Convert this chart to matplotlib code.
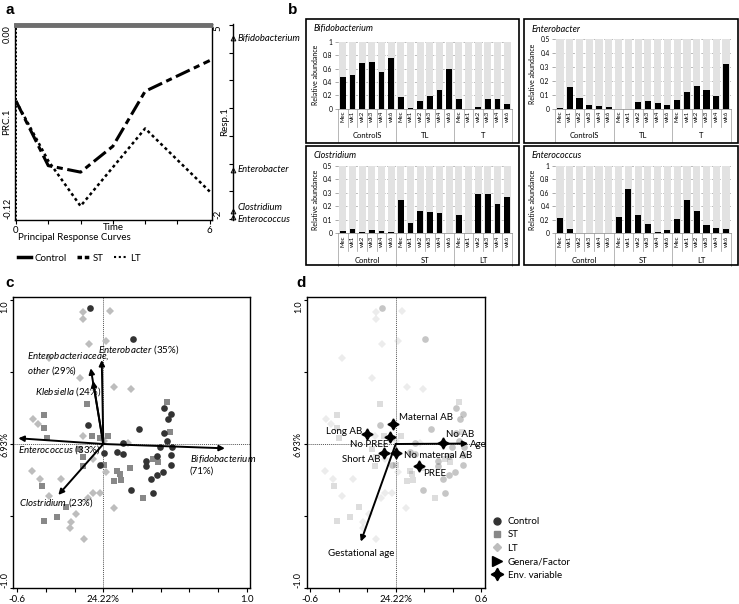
import matplotlib.pyplot as plt
import matplotlib as mpl
import matplotlib.transforms as mtransforms
from matplotlib.lines import Line2D
from matplotlib.patches import Rectangle
import numpy as np

W, H = 739, 604

mpl.rcParams.update({
    "font.family": ["Lato", "DejaVu Sans"],
    "font.size": 7,
    "axes.linewidth": 1.0,
    "mathtext.fontset": "custom",
    "mathtext.it": "Lato:italic",
    "mathtext.rm": "Lato",
    "xtick.major.size": 3,
    "ytick.major.size": 3,
    "xtick.major.width": 0.8,
    "ytick.major.width": 0.8,
    "xtick.minor.size": 3,
    "xtick.minor.width": 0.8,
    "xtick.labelsize": 7,
    "ytick.labelsize": 7,
})

# ---------- Data: panel a (principal response curves) ----------
prc_time = [0, 1, 2, 3, 4, 6]
prc_control = [0, 0, 0, 0, 0, 0]
prc_st = [-0.047, -0.087, -0.091, -0.075, -0.041, -0.022]
prc_lt = [-0.047, -0.084, -0.112, -0.088, -0.064, -0.103]
resp_taxa = ["Bifidobacterium", "Enterobacter", "Clostridium", "Enterococcus"]
resp_weights = [4.52, -0.23, -1.71, -1.94]

# ---------- Data: panel b (relative abundance) ----------
week_labels = ["Mec", "wk1", "wk2", "wk3", "wk4", "wk6"]
top_groups = ["ControlS", "TL", "T"]
bottom_groups = ["Control", "ST", "LT"]
bifidobacterium = [0.47, 0.50, 0.68, 0.69, 0.55, 0.76,
                   0.17, 0.01, 0.12, 0.19, 0.28, 0.60,
                   0.14, 0.00, 0.02, 0.14, 0.15, 0.07]
enterobacter = [0.010, 0.158, 0.077, 0.029, 0.019, 0.012,
                0.0, 0.0, 0.050, 0.055, 0.041, 0.026,
                0.065, 0.120, 0.168, 0.137, 0.096, 0.320]
clostridium = [0.017, 0.030, 0.010, 0.025, 0.017, 0.012,
               0.250, 0.074, 0.165, 0.158, 0.148, 0.003,
               0.133, 0.0, 0.290, 0.290, 0.215, 0.270]
enterococcus = [0.223, 0.064, 0.005, 0.0, 0.005, 0.0,
                0.238, 0.663, 0.277, 0.139, 0.015, 0.050,
                0.218, 0.495, 0.332, 0.129, 0.079, 0.059]

# ---------- Data: panels c/d (RDA sample scores) ----------
control_x = [-0.093, 0.209, -0.109, 0.135, 0.251, 0.423, 0.470, 0.449, 0.425, 0.442,
             0.395, 0.481, 0.007, 0.097, 0.135, -0.023, 0.193, 0.344, 0.295, 0.297,
             0.330, 0.372, 0.414, 0.470, 0.474, 0.372]
control_y = [0.946, 0.730, 0.130, 0.005, 0.105, 0.253, 0.209, 0.174, 0.079, 0.021,
             -0.019, -0.019, -0.060, -0.053, -0.070, -0.146, -0.321, -0.344, -0.151, -0.120,
             -0.244, -0.216, -0.193, -0.146, -0.077, -0.084]
st_x = [-0.112, -0.412, -0.412, -0.395, -0.081, -0.023, 0.035, 0.442, 0.465, -0.168,
        -0.140, -0.144, 0.005, 0.097, 0.116, 0.076, 0.121, 0.186, 0.279, 0.348,
        0.383, -0.430, -0.260, -0.412, -0.321]
st_y = [0.279, 0.202, 0.109, 0.040, 0.056, 0.040, 0.056, 0.295, 0.081, -0.035,
        -0.088, -0.151, -0.146, -0.188, -0.211, -0.258, -0.253, -0.170, -0.378, -0.107,
        -0.123, -0.293, -0.437, -0.534, -0.506]
lt_x = [-0.139, -0.139, 0.046, -0.098, 0.019, -0.163, 0.076, 0.193, -0.488, -0.454,
        -0.144, 0.005, 0.174, -0.074, 0.019, -0.500, -0.442, -0.297, -0.377, -0.074,
        -0.105, -0.023, -0.191, -0.228, -0.233, -0.135, 0.074, -0.379]
lt_y = [0.918, 0.871, 0.927, 0.695, 0.720, 0.458, 0.395, 0.383, 0.172, 0.139,
        0.058, 0.023, 0.009, -0.107, -0.193, -0.188, -0.244, -0.244, -0.362, -0.344,
        -0.378, -0.344, -0.490, -0.546, -0.583, -0.664, -0.448, 0.597]

genera_labels = [r"$\mathit{Enterobacter}$ (35%)",
                 r"$\mathit{Enterobacteriaceae,}$" + "\n" + r"$\mathit{other}$ (29%)",
                 r"$\mathit{Klebsiella}$ (24%)",
                 r"$\mathit{Enterococcus}$ (33%)",
                 r"$\mathit{Bifidobacterium}$" + "\n(71%)",
                 r"$\mathit{Clostridium}$ (23%)"]
genera_x = [-0.011, -0.088, -0.072, -0.593, 0.848, -0.314]
genera_y = [0.585, 0.528, 0.440, 0.040, -0.030, -0.355]

env_labels = ["Maternal AB", "Long AB", "No PREE", "No AB", "Short AB", "No maternal AB", "PREE"]
env_x = [-0.017, -0.204, -0.040, 0.330, -0.082, 0.002, 0.166]
env_y = [0.137, 0.070, 0.047, 0.009, -0.061, -0.065, -0.153]
factor_labels = ["Age", "Gestational age"]
factor_x = [0.510, -0.245]
factor_y = [0.003, -0.680]

C_CONTROL = "#333333"
C_ST = "#888888"
C_LT = "#bdbdbd"


def px_box(x0, y0, x1, y1):
    """Pixel box (top-left origin) -> figure fraction rect."""
    return [x0 / W, 1 - y1 / H, (x1 - x0) / W, (y1 - y0) / H]


def fxy(x, y):
    return x / W, 1 - y / H


fig = plt.figure(figsize=(W / 100, H / 100), dpi=100)

for letter, (lx, ly) in {"a": (5, 10), "b": (288, 10), "c": (5, 283), "d": (296, 283)}.items():
    fig.text(*fxy(lx, ly), letter, fontsize=11, fontweight="bold",
             family="Liberation Sans", va="center", ha="left")

# ---------- Panel a ----------
ax_a = fig.add_axes(px_box(15, 24, 212, 220))
ax_a.plot(prc_time, prc_control, color="#6e6e6e", lw=3.5, clip_on=False, zorder=4)
ax_a.plot(prc_time, prc_st, color="k", lw=2.2, ls=(0, (5, 1.5, 2, 1.5)))
ax_a.plot(prc_time, prc_lt, color="k", lw=1.8, ls=(0, (1.2, 1.2)))
ax_a.axvline(0, color="k", lw=0.7, ls=(0, (2, 2)))
ax_a.set_xlim(-0.03, 6.07)
ax_a.set_ylim(-0.1206, 0.0006)
ax_a.set_xticks(range(7))
ax_a.set_xticklabels(["0", "", "", "", "", "", "6"])
ax_a.tick_params(axis="x", pad=1)
ax_a.set_yticks([-0.12, 0.0])
ax_a.set_yticklabels(["-0.12", "0.00"])
for lab, va in zip(ax_a.get_yticklabels(), ["bottom", "top"]):
    lab.set_rotation(90)
    lab.set_va(va)
ax_a.tick_params(axis="y", length=0, pad=2, labelsize=6.5)
ax_a.set_xlabel("Time", labelpad=-8)
ax_a.set_ylabel("PRC.1", labelpad=-6)

ax_r = fig.add_axes(px_box(233, 24, 262, 220))
ax_r.patch.set_visible(False)
for side in ["top", "right", "bottom"]:
    ax_r.spines[side].set_visible(False)
ax_r.set_xlim(0, 1)
ax_r.set_ylim(-2.036, 5.036)
ax_r.set_xticks([])
ax_r.set_yticks(range(-2, 6))
ax_r.set_yticklabels([])
ax_r.tick_params(axis="y", length=3)
ax_r.plot([0] * len(resp_weights), resp_weights, ls="none", marker="^", ms=3.5,
          mfc="#999999", mec="k", mew=0.6, clip_on=False)
label_shift = [0, 0, 2.2, -1.2]
for name, w, dy in zip(resp_taxa, resp_weights, label_shift):
    ax_r.annotate(name, (0, w), xytext=(3.5, dy), textcoords="offset points",
                  va="center", ha="left", style="italic", fontsize=6.8)
ax_r.annotate("5", (0, 5), xytext=(-11, 0), textcoords="offset points",
              rotation=90, va="top", ha="center")
ax_r.annotate("-2", (0, -2), xytext=(-11, 0), textcoords="offset points",
              rotation=90, va="bottom", ha="center")
ax_r.annotate("Resp.1", (0, 1.5), xytext=(-6, 0), textcoords="offset points",
              rotation=90, va="center", ha="center")

fig.text(*fxy(18, 238), "Principal Response Curves", va="center", ha="left")
prc_handles = [Line2D([], [], color="k", lw=2.5),
               Line2D([], [], color="k", lw=2.5, ls=(0, (1.3, 0.8))),
               Line2D([], [], color="k", lw=1.5, ls=(0, (1, 1.3)))]
fig.legend(prc_handles, ["Control", "ST", "LT"], loc="center left",
           bbox_to_anchor=fxy(18, 258), ncol=3, frameon=False, fontsize=7,
           handlelength=1.3, handletextpad=0.4, columnspacing=1.0,
           borderaxespad=0, borderpad=0)


# ---------- Panel b ----------
def bar_panel(box, axbox, title, values, groups, ymax, ystep):
    bx0, by0, bx1, by1 = box
    fig.add_artist(Rectangle(fxy(bx0, by1), (bx1 - bx0) / W, (by1 - by0) / H,
                             transform=fig.transFigure, fill=False, lw=1.2, ec="k"))
    ax = fig.add_axes(px_box(*axbox))
    h_px = axbox[3] - axbox[1]
    pos = np.arange(len(values))
    ax.bar(pos, np.full(len(values), ymax), width=0.74, color="#e2e2e2", zorder=1)
    ax.bar(pos, values, width=0.62, color="k", zorder=2)
    ax.set_xlim(-0.5, len(values) - 0.5)
    ax.set_ylim(0, ymax)
    ticks = np.arange(0, ymax + 1e-9, ystep)
    ax.set_yticks(ticks)
    ax.set_yticklabels([f"{t:g}" for t in ticks])
    ax.yaxis.grid(True, color="#a0a0a0", lw=0.5, ls=(0, (3, 2)), zorder=0)
    ax.set_axisbelow(True)
    for side in ["left", "top", "right"]:
        ax.spines[side].set_visible(False)
    ax.spines["bottom"].set_color("#999999")
    ax.spines["bottom"].set_linewidth(0.6)
    ax.set_xticks([])
    ax.tick_params(axis="y", length=2, width=0.5, color="#888888", labelsize=4.8, pad=2)
    ax.set_ylabel("Relative abundance", fontsize=5, labelpad=3)

    trans = mtransforms.blended_transform_factory(ax.transData, ax.transAxes)
    n_weeks = len(week_labels)
    for i in range(len(values)):
        ax.text(i, -2 / h_px, week_labels[i % n_weeks], transform=trans, rotation=90,
                ha="center", va="top", fontsize=4.3)
    for i in range(len(values) + 1):
        depth = 33 if i % n_weeks == 0 else 18
        ax.plot([i - 0.5, i - 0.5], [0, -depth / h_px], transform=trans,
                color="#9a9a9a", lw=0.5, clip_on=False)
    for g, name in enumerate(groups):
        ax.text(g * n_weeks + (n_weeks - 1) / 2, -27 / h_px, name, transform=trans,
                ha="center", va="center", fontsize=5.5)
    fig.text(*fxy(bx0 + 8, by0 + 10), title, style="italic", fontsize=6.5,
             va="center", ha="left")


bar_panel((305.7, 19, 519, 143.3), (338, 41.7, 512, 108.7),
          "Bifidobacterium", bifidobacterium, top_groups, 1.0, 0.2)
bar_panel((524, 19, 737.7, 143.3), (555.1, 39.3, 730.9, 109),
          "Enterobacter", enterobacter, top_groups, 0.5, 0.1)
bar_panel((305.7, 145.7, 519, 265), (338, 165.7, 512, 233.3),
          "Clostridium", clostridium, bottom_groups, 0.5, 0.1)
bar_panel((524, 145.7, 737.7, 265), (555.1, 166, 730.9, 233.3),
          "Enterococcus", enterococcus, bottom_groups, 1.0, 0.2)


# ---------- Panels c and d ----------
def ordination_axes(x0, x1, xlim, xticks, xticklabels, minor):
    ax = fig.add_axes(px_box(x0, 297, x1, 588))
    ax.set_xlim(*xlim)
    ax.set_ylim(-1.003, 1.024)
    ax.axvline(0, color="#555555", lw=0.7, ls=(0, (1, 1)), zorder=1)
    ax.axhline(0, color="#555555", lw=0.7, ls=(0, (1, 1)), zorder=1)
    ax.set_xticks(xticks)
    ax.set_xticklabels(xticklabels)
    ax.set_xticks(minor, minor=True)
    ax.set_yticks([-1.0, -0.5, 0.0, 0.5, 1.0])
    ax.set_yticklabels(["-1.0", "", "6.93%", "", "1.0"])
    for lab, va in zip(ax.get_yticklabels(), ["bottom", "center", "center", "center", "top"]):
        lab.set_rotation(90)
        lab.set_va(va)
    ax.tick_params(axis="x", which="both", pad=2)
    ax.tick_params(axis="y", length=2, pad=0.8, labelsize=6.5)
    return ax


def draw_samples(ax, alpha):
    ax.plot(lt_x, lt_y, ls="none", marker="D", ms=3.6, color=C_LT, mew=0, alpha=alpha, zorder=2)
    ax.plot(st_x, st_y, ls="none", marker="s", ms=4.0, color=C_ST, mew=0, alpha=alpha, zorder=2)
    ax.plot(control_x, control_y, ls="none", marker="o", ms=4.8, color=C_CONTROL, mew=0,
            alpha=alpha, zorder=2)


arrow_style = dict(arrowstyle="-|>", color="k", lw=1.4, mutation_scale=8, shrinkA=0, shrinkB=0)

ax_c = ordination_axes(13, 250, (-0.630, 1.023), [-0.6, 0.0, 1.0], ["-0.6", "24.22%", "1.0"],
                       np.arange(-0.6, 1.01, 0.2))
draw_samples(ax_c, 1.0)
for gx, gy in zip(genera_x, genera_y):
    ax_c.annotate("", xy=(gx, gy), xytext=(0, 0), arrowprops=arrow_style, zorder=3)
c_label_pos = [(-0.035, 0.655), (-0.535, 0.557), (-0.477, 0.365),
               (-0.593, -0.042), (0.604, -0.139), (-0.588, -0.409)]
for label, (tx, ty) in zip(genera_labels, c_label_pos):
    ax_c.text(tx, ty, label, ha="left", va="center", fontsize=7, zorder=4,
              multialignment="left")

ax_d = ordination_axes(306.7, 485, (-0.625, 0.627), [-0.6, 0.0, 0.6], ["-0.6", "24.22%", "0.6"],
                       np.arange(-0.6, 0.61, 0.2))
draw_samples(ax_d, 0.28)
for fx_, fy_ in zip(factor_x, factor_y):
    ax_d.annotate("", xy=(fx_, fy_), xytext=(0, 0), arrowprops=arrow_style, zorder=3)
ax_d.plot(env_x, env_y, ls="none", marker=(4, 1, 0), ms=8, color="k", zorder=4)
d_label_pos = [(0.025, 0.183, "left"), (-0.232, 0.090, "right"), (-0.054, -0.003, "right"),
               (0.353, 0.063, "left"), (-0.110, -0.111, "right"), (0.058, -0.077, "left"),
               (0.192, -0.207, "left")]
for label, (tx, ty, ha) in zip(env_labels, d_label_pos):
    ax_d.text(tx, ty, label, ha=ha, va="center", fontsize=7, zorder=5)
ax_d.text(0.522, 0.0, factor_labels[0], ha="left", va="center", fontsize=7, zorder=5)
ax_d.text(-0.244, -0.76, factor_labels[1], ha="center", va="center", fontsize=7, zorder=5)

legend_handles = [
    Line2D([], [], ls="none", marker="o", ms=5, color=C_CONTROL),
    Line2D([], [], ls="none", marker="s", ms=4.5, color=C_ST),
    Line2D([], [], ls="none", marker="D", ms=4, color=C_LT),
    Line2D([], [], ls="none", marker=">", ms=6.5, color="k"),
    Line2D([], [], ls="none", marker=(4, 1, 0), ms=9, color="k"),
]
fig.legend(legend_handles, ["Control", "ST", "LT", "Genera/Factor", "Env. variable"],
           loc="upper left", bbox_to_anchor=fxy(492, 517), frameon=False, fontsize=7,
           handlelength=1.0, handletextpad=0.6, labelspacing=0.45,
           borderaxespad=0, borderpad=0)

fig.savefig("out.png", dpi=100, facecolor="white")
